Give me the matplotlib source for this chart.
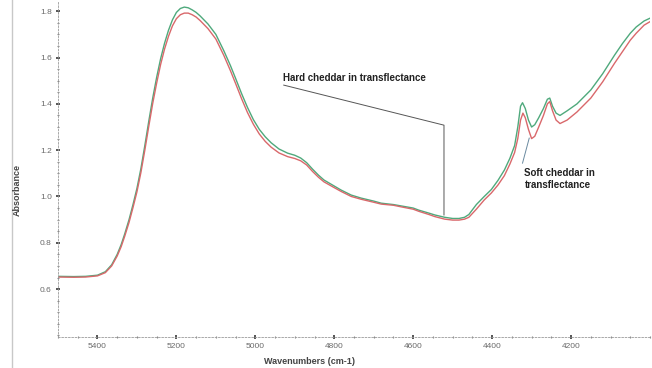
import numpy as np
import matplotlib
matplotlib.use("Agg")
import matplotlib.pyplot as plt
from matplotlib.ticker import MultipleLocator

# wavenumbers (cm-1) and absorbance
hard_wn = [5500, 5460, 5430, 5400, 5380, 5364, 5350, 5340, 5331, 5320, 5310, 5300,
           5290, 5280, 5270, 5260, 5250, 5240, 5230, 5220, 5210, 5200, 5190, 5180,
           5170, 5160, 5150, 5140, 5120, 5100, 5080, 5063, 5050, 5035, 5020, 5005,
           4990, 4975, 4960, 4940, 4918, 4900, 4885, 4870, 4855, 4840, 4826, 4800,
           4783, 4757, 4732, 4700, 4681, 4650, 4630, 4600, 4586, 4560, 4545, 4520,
           4500, 4484, 4470, 4459, 4440, 4420, 4402, 4385, 4369, 4355, 4343, 4335,
           4328, 4323, 4316, 4308, 4300, 4292, 4282, 4270, 4260, 4254, 4247, 4238,
           4228, 4210, 4185, 4150, 4120, 4090, 4070, 4050, 4035, 4015, 4000]
hard_abs = [0.655, 0.654, 0.655, 0.660, 0.675, 0.705, 0.750, 0.792, 0.838, 0.900, 0.965, 1.035,
            1.120, 1.220, 1.325, 1.425, 1.515, 1.595, 1.662, 1.718, 1.763, 1.795, 1.812, 1.818,
            1.815, 1.806, 1.795, 1.780, 1.745, 1.700, 1.630, 1.565, 1.510, 1.445, 1.385, 1.332,
            1.290, 1.258, 1.232, 1.205, 1.187, 1.178, 1.166, 1.146, 1.118, 1.092, 1.071, 1.045,
            1.028, 1.006, 0.993, 0.980, 0.971, 0.965, 0.959, 0.950, 0.941, 0.928, 0.920, 0.910,
            0.905, 0.905, 0.910, 0.922, 0.965, 1.000, 1.030, 1.070, 1.114, 1.165, 1.220, 1.300,
            1.390, 1.405, 1.380, 1.330, 1.300, 1.310, 1.340, 1.380, 1.420, 1.425, 1.390, 1.360,
            1.350, 1.370, 1.400, 1.460, 1.530, 1.610, 1.660, 1.705, 1.732, 1.758, 1.770]

soft_wn = [5500, 5460, 5430, 5400, 5380, 5364, 5350, 5340, 5331, 5320, 5310, 5300,
           5290, 5280, 5270, 5260, 5250, 5240, 5230, 5220, 5210, 5200, 5190, 5180,
           5170, 5160, 5150, 5140, 5120, 5100, 5080, 5063, 5050, 5035, 5020, 5005,
           4990, 4975, 4960, 4940, 4918, 4900, 4885, 4870, 4855, 4840, 4826, 4800,
           4783, 4757, 4732, 4700, 4681, 4650, 4630, 4600, 4586, 4560, 4545, 4520,
           4500, 4484, 4470, 4459, 4440, 4420, 4402, 4385, 4369, 4355, 4343, 4335,
           4328, 4322, 4316, 4308, 4300, 4292, 4282, 4270, 4260, 4254, 4247, 4238,
           4228, 4210, 4185, 4150, 4120, 4090, 4070, 4050, 4035, 4015, 4000]
soft_abs = [0.652, 0.651, 0.652, 0.657, 0.671, 0.700, 0.743, 0.783, 0.828, 0.888, 0.952, 1.020,
            1.103, 1.200, 1.303, 1.402, 1.490, 1.570, 1.637, 1.692, 1.737, 1.768, 1.785, 1.792,
            1.792, 1.785, 1.775, 1.760, 1.725, 1.680, 1.610, 1.543, 1.488, 1.423, 1.363, 1.312,
            1.270, 1.238, 1.213, 1.188, 1.172, 1.164, 1.154, 1.136, 1.108, 1.083, 1.063, 1.038,
            1.022, 1.000, 0.988, 0.975, 0.967, 0.962, 0.955, 0.945, 0.936, 0.922, 0.913, 0.902,
            0.898, 0.898, 0.902, 0.910, 0.945, 0.985, 1.015, 1.050, 1.090, 1.140, 1.190, 1.250,
            1.330, 1.360, 1.340, 1.290, 1.250, 1.260, 1.300, 1.350, 1.400, 1.410, 1.370, 1.330,
            1.315, 1.330, 1.365, 1.425, 1.495, 1.575, 1.625, 1.675, 1.705, 1.740, 1.755]

x_ticks = [5400, 5200, 5000, 4800, 4600, 4400, 4200]
y_ticks = [0.6, 0.8, 1.0, 1.2, 1.4, 1.6, 1.8]

plt.rcParams['font.family'] = ['Liberation Sans', 'DejaVu Sans']

fig = plt.figure(figsize=(6.52, 3.68), dpi=100)
ax = fig.add_axes([58 / 652, 1 - 337 / 368, 592 / 652, 335 / 368])

ax.plot(hard_wn, hard_abs, color='#4fa97c', lw=1.0)
ax.plot(soft_wn, soft_abs, color='#d9686b', lw=1.0)

ax.set_xlim(5500, 4000)
ax.set_ylim(0.393, 1.84)
ax.set_xticks(x_ticks)
ax.set_yticks(y_ticks)
ax.set_yticklabels([f"{v:.1f}" for v in y_ticks])
ax.xaxis.set_minor_locator(MultipleLocator(50))
ax.yaxis.set_minor_locator(MultipleLocator(0.05))

for side in ['top', 'right']:
    ax.spines[side].set_visible(False)
for side in ['left', 'bottom']:
    ax.spines[side].set_color('#9a9a9a')
    ax.spines[side].set_linewidth(0.6)
    ax.spines[side].set_linestyle((0, (2, 2)))

ax.tick_params(which='major', direction='inout', length=3, width=1.4,
               color='#555555', labelsize=6, labelcolor='#6a6a6a', pad=3)
ax.tick_params(which='minor', direction='inout', length=2, width=0.8, color='#888888')

# annotations
ax.text(4931, 1.511, "Hard cheddar in transflectance", fontsize=7, fontweight='bold',
        color='#222222', ha='left', va='center')
ax.plot([4928, 4522, 4522], [1.481, 1.308, 0.92], color='#555555', lw=0.7)
ax.text(4318, 1.075, "Soft cheddar in\ntransflectance", fontsize=7, fontweight='bold',
        color='#222222', ha='left', va='center', linespacing=1.2)
ax.plot([4323, 4306], [1.144, 1.252], color='#6a8aa0', lw=0.7)

fig.text(310 / 652, 1 - 361 / 368, "Wavenumbers (cm-1)", fontsize=6.5, fontweight='bold',
         color='#444444', ha='center', va='center')
fig.text(17 / 652, 1 - 190 / 368, "Absorbance", fontsize=6.5, fontweight='bold',
         color='#444444', ha='center', va='center', rotation=90)

# faint frame line on the left edge of the picture
fig.add_artist(plt.Line2D([12 / 652, 12 / 652], [0, 1], color='#c8c8c8', lw=1.0,
                          transform=fig.transFigure))

fig.savefig("out.png", dpi=100)
